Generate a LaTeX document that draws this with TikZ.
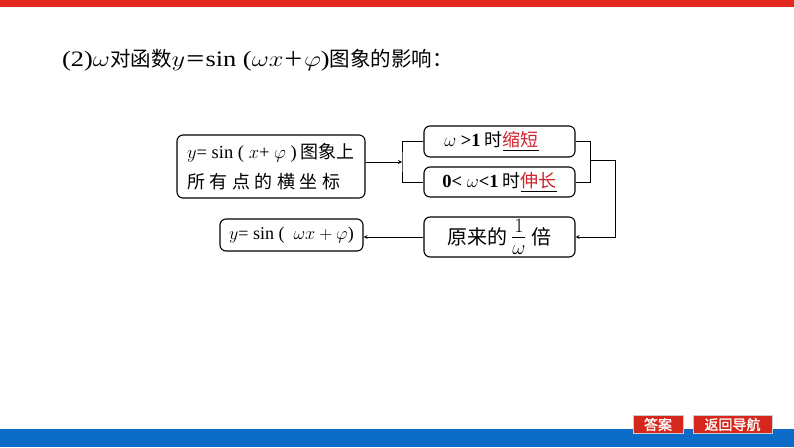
\RequirePackage{fix-cm}
\documentclass[tikz,border=0pt]{standalone}
\usepackage{amsmath}
\usepackage{fontspec}
\setmainfont{Noto Sans CJK SC}
\newfontfamily\lat{Liberation Serif}
\newfontfamily\botao[FakeBold=1.5]{Noto Sans CJK SC}
\definecolor{barravermelha}{HTML}{E1291F}
\definecolor{barraazul}{HTML}{0B6BC6}
\definecolor{vermelhotexto}{HTML}{D0202A}
\newcommand{\sublinhado}[1]{\underline{\textcolor{vermelhotexto}{#1}}}
\newcommand{\latino}[1]{{\fontsize{18.5}{18.5}\selectfont\lat #1}}
\newcommand{\titlat}[1]{\scalebox{1.2}[1]{\fontsize{22}{22}\selectfont\lat #1}}

\begin{document}
\begin{tikzpicture}[x=1pt, y=-1pt, >=stealth,
		caixa/.style={draw, line width=1.1pt, rounded corners=6pt, inner sep=0pt, align=center, font=\fontsize{18}{18}\selectfont},
		seta/.style={->, line width=0.8pt},
		linha/.style={line width=0.8pt},
		botaobox/.style={fill=barravermelha!95!black, draw=gray!40, line width=1pt, text=white, inner sep=0pt, font=\botao\fontsize{14}{14}\selectfont}]
	\useasboundingbox (0,0) rectangle (794,447); %Tamanho da figura
		%Barras de cima e de baixo
	\fill[barravermelha] (0,0) rectangle (794,7); %Barra vermelha
	\fill[barraazul] (0,429) rectangle (794,447); %Barra azul
		%Titulo
	\node[anchor=west, inner sep=0pt, font=\fontsize{20.5}{20.5}\selectfont] (titulo) at (62,60)
		{\titlat{(2)$\omega$}对函数\titlat{$y$}＝\titlat{sin ($\omega x$}＋\titlat{$\varphi$)}图象的影响：};
		%Caixas
	\node[caixa, minimum width=188pt, minimum height=63pt, align=left, font=\fontsize{18}{30}\selectfont] (pontos) at (271,166.5)
		{\latino{$y$= sin ( $x$+ $\varphi$ )} 图象上\\
		\makebox[153pt][s]{所\hfill 有\hfill 点\hfill 的\hfill 横\hfill 坐\hfill 标}};
	\node[caixa, minimum width=151pt, minimum height=31pt] (maior) at (499.5,141.5)
		{\latino{$\omega$ \bfseries >1} 时\sublinhado{缩短}\hspace{16pt}};
	\node[caixa, minimum width=151pt, minimum height=30pt] (menor) at (499.5,182)
		{\latino{\bfseries 0< $\omega$\bfseries <1} 时\sublinhado{伸长}};
	\node[caixa, minimum width=151pt, minimum height=40pt, font=\fontsize{20}{20}\selectfont] (vezes) at (499.5,237)
		{原来的\,{\fontsize{29}{29}\selectfont$\frac{1}{\omega}$}\ 倍};
	\node[caixa, minimum width=143pt, minimum height=32pt] (final) at (291.5,235)
		{{\fontsize{18}{18}\selectfont\lat $y$= sin ( \ $\omega x+\varphi$)}};
		%Colchetes e setas
	\coordinate (esq) at (402,162); %Colchete da esquerda
	\coordinate (dir) at (590,160); %Colchete da direita
	\draw[linha] (maior.west) -| (esq) |- (menor.west);
	\draw[seta] (pontos.east |- esq) -- (esq);
	\draw[linha] (maior.east) -| (dir) |- (menor.east);
	\draw[seta] (dir) -| (615,237) -- (vezes.east);
	\draw[seta] (vezes.west) -- (final.east |- vezes.west);
		%Botoes
	\node[botaobox, minimum width=50pt, minimum height=18pt] (resposta) at (658,424.5) {答案};
	\node[botaobox, minimum width=79pt, minimum height=18pt] (voltar) at (732.5,424.5) {返回导航};
\end{tikzpicture}
\end{document}
